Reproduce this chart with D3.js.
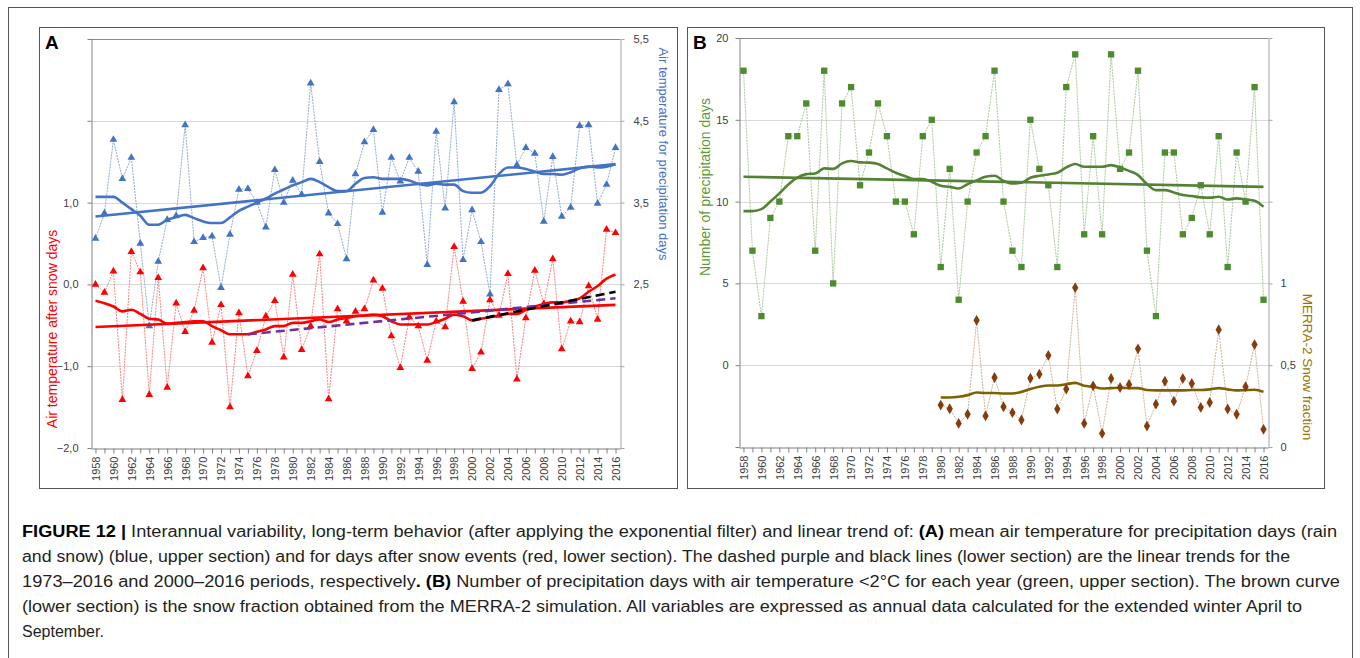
<!DOCTYPE html>
<html><head><meta charset="utf-8">
<script src="https://cdn.jsdelivr.net/npm/d3@7"></script>
<style>body{margin:0;background:#fff;} svg{display:block;font-family:"Liberation Sans",Arial,sans-serif;}</style>
</head><body><svg id="c" width="1360" height="658"></svg>
<script>
// ---------- DATA ----------
const years = [1958,1959,1960,1961,1962,1963,1964,1965,1966,1967,1968,1969,1970,1971,1972,1973,1974,1975,1976,1977,1978,1979,1980,1981,1982,1983,1984,1985,1986,1987,1988,1989,1990,1991,1992,1993,1994,1995,1996,1997,1998,1999,2000,2001,2002,2003,2004,2005,2006,2007,2008,2009,2010,2011,2012,2013,2014,2015,2016];
const yearLabels = years.filter(y => y % 2 === 0);

// Panel A - air temperature for precipitation days (right axis)
const bluePrecipTemp = [3.06,3.37,4.27,3.79,4.05,3.0,1.99,2.78,3.29,3.34, 4.45,3.02,3.07,3.09,2.46,3.11,3.66,3.67,3.5,3.2, 3.9,3.5,3.77,3.6,4.96,4.0,3.37,3.24,2.81,3.85, 4.24,4.39,3.38,4.05,3.76,4.05,3.88,2.74,4.37,3.43, 4.73,2.8,3.41,3.02,2.38,4.88,4.95,3.96,4.17,4.1, 3.27,4.06,3.33,3.44,4.44,4.45,3.49,3.72,4.17];
const bluePrecipSmooth = [3.57,3.57,3.57,3.5,3.42,3.34,3.23,3.23,3.29,3.32, 3.35,3.31,3.27,3.25,3.25,3.32,3.4,3.45,3.5,3.55, 3.61,3.66,3.71,3.75,3.79,3.75,3.69,3.64,3.64,3.73, 3.8,3.81,3.79,3.79,3.79,3.77,3.73,3.71,3.73,3.72, 3.72,3.64,3.62,3.62,3.7,3.85,3.93,3.93,3.91,3.88, 3.85,3.85,3.84,3.87,3.92,3.94,3.93,3.94,3.97];
const bluePrecipTrend = {years:[1958,2016], values:[3.33,3.97]};

// Panel A - air temperature after snow days (left axis)
const redSnowTemp = [0.0,-0.1,0.16,-1.41,0.4,0.15,-1.35,0.08,-1.26,-0.23, -0.58,-0.32,0.2,-0.71,-0.25,-1.5,-0.35,-1.12,-0.81,-0.39, -0.2,-0.89,0.12,-0.8,-0.51,0.37,-1.4,-0.3,-0.45,-0.33, -0.3,0.05,-0.05,-0.63,-1.02,-0.4,-0.51,-0.93,-0.45,-0.52, 0.46,-0.21,-1.03,-0.83,-0.19,-0.38,0.13,-1.16,-0.41,0.17, -0.24,0.31,-0.79,-0.45,-0.46,-0.02,-0.43,0.67,0.63];
const redSnowSmooth = [-0.2,-0.23,-0.27,-0.33,-0.31,-0.36,-0.42,-0.43,-0.48,-0.47, -0.46,-0.45,-0.45,-0.51,-0.56,-0.61,-0.61,-0.61,-0.58,-0.55, -0.51,-0.51,-0.47,-0.47,-0.45,-0.43,-0.46,-0.43,-0.41,-0.39, -0.38,-0.37,-0.39,-0.45,-0.49,-0.49,-0.49,-0.49,-0.46,-0.42, -0.37,-0.39,-0.44,-0.42,-0.4,-0.38,-0.36,-0.36,-0.31,-0.27, -0.24,-0.22,-0.22,-0.2,-0.17,-0.09,-0.02,0.07,0.12];
const redSnowTrend = {years:[1958,2016], values:[-0.52,-0.25]};
const purpleTrend = {years:[1975,2016], values:[-0.61,-0.17]};
const blackTrend = {years:[2000,2016], values:[-0.44,-0.09]};

// Panel B - number of precipitation days (left axis)
const greenDays = [18,7,3,9,10,14,14,16,7,18, 5,16,17,11,13,16,14,10,10,8, 14,15,6,12,4,10,13,14,18,10, 7,6,15,12,11,6,17,19,8,14, 8,19,12,13,18,7,3,13,13,8, 9,11,8,14,6,13,10,17,4];
const greenSmooth = [9.42,9.42,9.54,10.0,10.5,11.05,11.46,11.68,11.72,12.03, 12.0,12.34,12.48,12.4,12.38,12.3,12.03,11.76,11.56,11.38, 11.38,11.21,10.97,10.9,10.8,11.07,11.3,11.52,11.58,11.27, 11.11,11.15,11.46,11.58,11.66,11.76,12.09,12.3,12.13,12.13, 12.13,12.23,12.09,11.88,11.62,11.07,10.7,10.7,10.56,10.4, 10.34,10.26,10.24,10.3,10.13,10.2,10.13,10.05,9.68];
const greenTrend = {years:[1958,2016], values:[11.52,10.9]};

// Panel B - MERRA-2 snow fraction (right axis)
const snowYears = [1980,1981,1982,1983,1984,1985,1986,1987,1988,1989,1990,1991,1992,1993,1994,1995,1996,1997,1998,1999,2000,2001,2002,2003,2004,2005,2006,2007,2008,2009,2010,2011,2012,2013,2014,2015,2016];
const snowFraction = [0.256,0.234,0.144,0.2,0.774,0.19,0.425,0.246,0.21,0.165, 0.42,0.445,0.56,0.232,0.354,0.974,0.144,0.374,0.083,0.419, 0.364,0.382,0.6,0.128,0.262,0.402,0.28,0.419,0.388,0.242, 0.272,0.717,0.232,0.2,0.368,0.626,0.108];
const snowSmooth = [0.303,0.303,0.307,0.317,0.333,0.33,0.33,0.327,0.327,0.337, 0.354,0.368,0.376,0.376,0.384,0.392,0.374,0.368,0.358,0.36, 0.362,0.36,0.36,0.348,0.346,0.346,0.346,0.346,0.348,0.348, 0.352,0.36,0.352,0.346,0.348,0.35,0.337];

const aLeftTicks = [-2,-1,0,1,2,3], aLeftLabels = [-2,-1,0,1];
const aRightTicks = [0.5,1.5,2.5,3.5,4.5,5.5], aRightLabels = [2.5,3.5,4.5,5.5];
const bLeftTicks = [-5,0,5,10,15,20], bLeftLabels = [0,5,10,15,20];
const bRightTicks = [0,0.5,1,1.5,2,2.5], bRightLabels = [0,0.5,1];

// ---------- DRAW ----------
const svg = d3.select("#c");
const loc = d3.formatLocale({decimal:",",thousands:".",grouping:[3],currency:["",""]});
const f1 = loc.format(".1f"), fg = loc.format("~g");

svg.append("rect").attr("x",8.5).attr("y",7.5).attr("width",1344).attr("height",720)
  .attr("fill","none").attr("stroke","#555").attr("stroke-width",1);

function styleAxis(g, lineCol){
  g.select(".domain").attr("stroke",lineCol);
  g.selectAll(".tick line").attr("stroke",lineCol);
  g.selectAll(".tick text").attr("fill","#404040").style("font-size","11px").style("font-family",'"Liberation Sans",Arial,sans-serif');
}

function buildPanel(o){
  const g = svg.append("g");
  g.append("rect").attr("x",o.frame[0]+0.5).attr("y",o.frame[1]+0.5).attr("width",o.frame[2]).attr("height",o.frame[3])
    .attr("fill","#fff").attr("stroke","#555");
  const x = d3.scalePoint().domain(years).range([o.L,o.R]).padding(0.5);
  const yl = d3.scaleLinear().domain(o.leftDomain).range([o.B,o.T]);
  const yr = d3.scaleLinear().domain(o.rightDomain).range([o.B,o.T]);
  g.append("g").selectAll("line").data(o.leftTicks.slice(1,-1)).join("line")
    .attr("x1",o.L).attr("x2",o.R).attr("y1",d=>Math.round(yl(d))+0.5).attr("y2",d=>Math.round(yl(d))+0.5)
    .attr("stroke","#d9d9d9");
  g.append("line").attr("x1",o.L).attr("x2",o.R).attr("y1",o.T+0.5).attr("y2",o.T+0.5).attr("stroke","#8c8c8c");
  const ga = g.append("g").attr("transform",`translate(${o.L+0.5},0)`)
    .call(d3.axisLeft(yl).tickValues(o.leftTicks).tickSize(4).tickSizeOuter(0).tickPadding(o.padL)
      .tickFormat(v => o.leftLabels.includes(v) ? o.leftFmt(v) : ""));
  styleAxis(ga,"#7f7f7f");
  const gr = g.append("g").attr("transform",`translate(${o.R+0.5},0)`)
    .call(d3.axisRight(yr).tickValues(o.rightTicks).tickSize(4).tickSizeOuter(0).tickPadding(o.padR)
      .tickFormat(v => o.rightLabels.includes(v) ? o.rightFmt(v) : ""));
  styleAxis(gr,"#a6a6a6");
  const gb = g.append("g").attr("transform",`translate(0,${o.B+0.5})`)
    .call(d3.axisBottom(x).tickSize(5).tickSizeOuter(0).tickFormat(v => yearLabels.includes(v) ? v : ""));
  styleAxis(gb,"#7f7f7f");
  gb.selectAll(".tick text").attr("transform","rotate(-90)").attr("text-anchor","end")
    .attr("x",-8).attr("y",0).attr("dy","0.35em");
  g.append("text").attr("x",o.letterX).attr("y",49).text(o.letter)
    .style("font-size","19px").style("font-weight","bold").attr("fill","#000");
  g.append("text").attr("transform",`translate(${o.ltX},${o.ltY}) rotate(-90)`).attr("text-anchor","middle")
    .attr("dy","0.35em").text(o.leftTitle).attr("fill",o.leftTitleCol).style("font-size",o.ltSize);
  g.append("text").attr("transform",`translate(${o.rtX},${o.rtY}) rotate(90)`).attr("text-anchor","middle")
    .attr("dy","0.35em").text(o.rightTitle).attr("fill",o.rightTitleCol).style("font-size",o.rtSize);
  return {g,x,yl,yr};
}

function series(p, xs, vals, y, thinCol, markCol, symType, symSize, smooth, smoothCol){
  const pts = xs.map((yr,i)=>[p.x(yr), y(vals[i])]);
  p.g.append("path").attr("d",d3.line()(pts)).attr("fill","none").attr("stroke",thinCol)
    .attr("stroke-width",1).attr("stroke-dasharray","2,1");
  if (smooth){
    p.g.append("path").attr("d",d3.line().curve(d3.curveMonotoneX)(xs.map((yr,i)=>[p.x(yr), y(smooth[i])])))
      .attr("fill","none").attr("stroke",smoothCol).attr("stroke-width",2.6).attr("stroke-linejoin","round");
  }
  p.g.append("g").selectAll("path").data(pts).join("path")
    .attr("transform",d=>`translate(${d[0]},${d[1]})`)
    .attr("d",d3.symbol().type(symType).size(symSize)).attr("fill",markCol);
}
function trend(p, t, y, col, dash){
  const l = p.g.append("line").attr("x1",p.x(t.years[0])).attr("x2",p.x(t.years[1]))
    .attr("y1",y(t.values[0])).attr("y2",y(t.values[1])).attr("stroke",col).attr("stroke-width",2.6);
  if (dash) l.attr("stroke-dasharray",dash);
}

// Panel A
const A = buildPanel({frame:[39,27,638,461], L:91, R:620, T:39, B:448,
  leftDomain:[-2,3], rightDomain:[0.5,5.5], leftTicks:aLeftTicks, leftLabels:aLeftLabels,
  rightTicks:aRightTicks, rightLabels:aRightLabels, leftFmt:f1, rightFmt:f1, padL:9, padR:9,
  letter:"A", letterX:45, ltX:52, ltY:329, rtX:664, rtY:154, ltSize:"14px", rtSize:"13px",
  leftTitle:"Air temperature after snow days", leftTitleCol:"#ff0000",
  rightTitle:"Air temperature for precipitation days", rightTitleCol:"#4472c4"});
series(A, years, bluePrecipTemp, A.yr, "#8faadc", "#4472c4", d3.symbolTriangle, 26, bluePrecipSmooth, "#4472c4");
trend(A, bluePrecipTrend, A.yr, "#4472c4");
series(A, years, redSnowTemp, A.yl, "#ff8080", "#ff0000", d3.symbolTriangle, 26, redSnowSmooth, "#ff0000");
trend(A, redSnowTrend, A.yl, "#ff0000");
trend(A, purpleTrend, A.yl, "#7030a0", "9,5");
trend(A, blackTrend, A.yl, "#000000", "9,5");

// Panel B
const Bp = buildPanel({frame:[687,27,637,461], L:739, R:1268, T:38, B:447,
  leftDomain:[-5,20], rightDomain:[0,2.5], leftTicks:bLeftTicks, leftLabels:bLeftLabels,
  rightTicks:bRightTicks, rightLabels:bRightLabels, leftFmt:fg, rightFmt:fg, padL:7, padR:8,
  letter:"B", letterX:693, ltX:705, ltY:187, rtX:1308, rtY:367, ltSize:"14px", rtSize:"13.5px",
  leftTitle:"Number of precipitation days", leftTitleCol:"#5b9b37",
  rightTitle:"MERRA-2 Snow fraction", rightTitleCol:"#997300"});
series(Bp, years, greenDays, Bp.yl, "#a9c99a", "#4e8a2e", d3.symbolSquare, 40, greenSmooth, "#548235");
trend(Bp, greenTrend, Bp.yl, "#548235");
series(Bp, snowYears, snowFraction, Bp.yr, "#cdb396", "#843c0c", d3.symbolDiamond, 34, snowSmooth, "#7f6000");

// Caption
const capLines = [
  {w:1315, parts:[["FIGURE 12 | ",true],["Interannual variability, long-term behavior (after applying the exponential filter) and linear trend of: ",false],["(A)",true],[" mean air temperature for precipitation days (rain",false]]},
  {w:1268, parts:[["and snow) (blue, upper section) and for days after snow events (red, lower section). The dashed purple and black lines (lower section) are the linear trends for the",false]]},
  {w:1318, parts:[["1973–2016 and 2000–2016 periods, respectively",false],[". (B)",true],[" Number of precipitation days with air temperature <2°C for each year (green, upper section). The brown curve",false]]},
  {w:1280, parts:[["(lower section) is the snow fraction obtained from the MERRA-2 simulation. All variables are expressed as annual data calculated for the extended winter April to",false]]},
  {w:null, parts:[["September.",false]]}
];
const cap = svg.append("g").style("font-size","16px").attr("fill","#231f20");
capLines.forEach((ln,i)=>{
  const t = cap.append("text").attr("x",22).attr("y",537+i*25);
  if (ln.w) t.attr("textLength",ln.w).attr("lengthAdjust","spacingAndGlyphs");
  ln.parts.forEach(p=>t.append("tspan").text(p[0]).style("font-weight",p[1]?"bold":"normal").attr("fill",p[1]?"#000":"#231f20"));
});
</script></body></html>
